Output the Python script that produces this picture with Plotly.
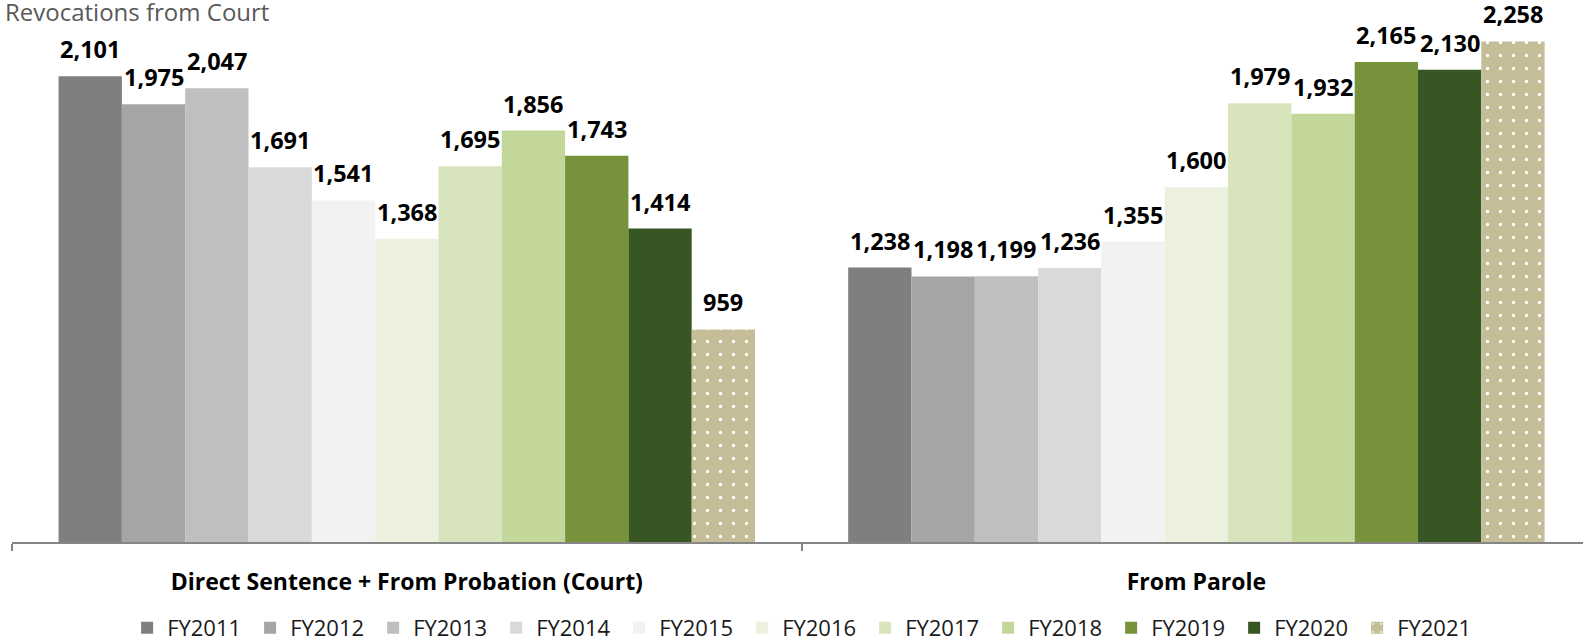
import plotly.graph_objects as go

categories = ["Direct Sentence + From Probation (Court)", "From Parole"]
years = ["FY2011", "FY2012", "FY2013", "FY2014", "FY2015", "FY2016",
         "FY2017", "FY2018", "FY2019", "FY2020", "FY2021"]
court = [2101, 1975, 2047, 1691, 1541, 1368, 1695, 1856, 1743, 1414, 959]
parole = [1238, 1198, 1199, 1236, 1355, 1600, 1979, 1932, 2165, 2130, 2258]
colors = ["#7f7f7f", "#a5a5a5", "#bfbfbf", "#d9d9d9", "#f2f2f2", "#ebf1de",
          "#d8e4bc", "#c4d79b", "#76933c", "#375623", "#c4bd97"]

FONT = "Open Sans"
BARGAP = 0.118

fig = go.Figure()
n = len(years)
annotations = []
for j, yr in enumerate(years):
    vals = [court[j], parole[j]]
    marker = dict(color=colors[j], line=dict(width=0))
    if yr == "FY2021":
        marker["pattern"] = dict(shape=".", fgcolor="white", bgcolor=colors[j],
                                 size=13, solidity=0.05, fillmode="replace")
    fig.add_trace(go.Bar(name=yr, x=categories, y=vals, marker=marker,
                         hoverinfo="x+y+name"))
    # value labels above each bar (positioned on the category axis)
    w = (1 - BARGAP) / n
    for ci, v in enumerate(vals):
        annotations.append(dict(
            x=ci + (j - (n - 1) / 2) * w, y=v, xref="x", yref="y",
            text=f"{v:,}", showarrow=False, xanchor="center", yanchor="bottom",
            yshift=9,
            font=dict(family=FONT, size=23.5, color="black", weight="bold")))

annotations.append(dict(text="Revocations from Court", xref="paper", yref="paper",
                        x=-9 / 1571, y=1 - 1.5 / 532, xanchor="left", yanchor="middle",
                        showarrow=False,
                        font=dict(family=FONT, size=24, color="#595959")))

fig.update_layout(
    width=1583, height=642,
    margin=dict(l=12, r=0, t=10, b=100),
    plot_bgcolor="white", paper_bgcolor="white",
    barmode="group", bargap=BARGAP, bargroupgap=0,
    font=dict(family=FONT),
    showlegend=True,
    legend=dict(orientation="h", x=0.5039, xanchor="center",
                yref="container", y=1 - 628 / 642, yanchor="middle",
                font=dict(family=FONT, size=22, color="#1a1a1a"),
                entrywidth=78, itemwidth=30, traceorder="normal"),
    xaxis=dict(type="category", range=[-0.5, 1.4896],
               showline=True, linecolor="#868686", linewidth=2,
               ticks="outside", tickson="boundaries", ticklen=7, tickcolor="#868686",
               tickwidth=1.5, ticklabelstandoff=18,
               tickfont=dict(family=FONT, size=23, color="black", weight="bold"),
               showgrid=False, zeroline=False),
    yaxis=dict(range=[0, 2400], visible=False, showgrid=False, zeroline=False),
    annotations=annotations,
)

fig.write_html("out.html", config={"displayModeBar": False},
               post_script="document.body.style.margin='0';")
